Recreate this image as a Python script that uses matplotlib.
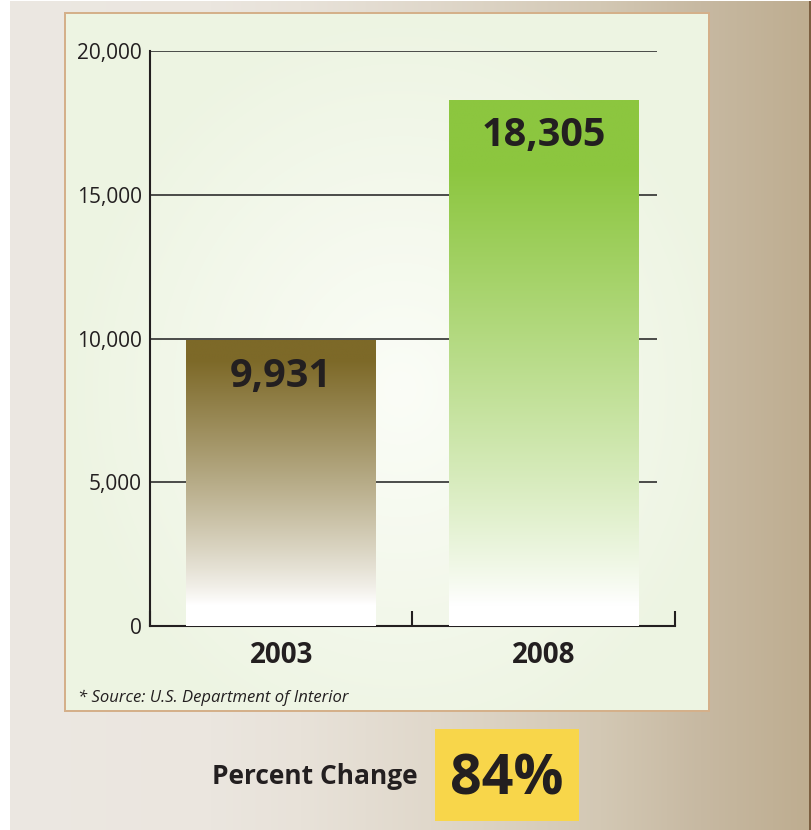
import numpy as np
import matplotlib
matplotlib.use("Agg")
import matplotlib.pyplot as plt
from matplotlib.patches import Rectangle
from matplotlib.colors import to_rgb

# ---- data ----
categories = ["2003", "2008"]
values = [9931, 18305]
value_labels = ["9,931", "18,305"]
y_ticks = [0, 5000, 10000, 15000, 20000]
y_tick_labels = ["0", "5,000", "10,000", "15,000", "20,000"]
source_text = "* Source: U.S. Department of Interior"
change_label = "Percent Change"
change_value = "84%"

# ---- style ----
bar_top_colors = ["#7d6928", "#8cc63f"]
white_end = [0.075, 0.04]   # fraction of bar height that stays white
full_start = [0.93, 0.87]   # fraction of bar height where full colour is reached
text_color = "#231f20"
FONT = "Open Sans"

W, H = 812, 830
fig = plt.figure(figsize=(W / 100, H / 100), dpi=100)

# ---- background image ----
bg = fig.add_axes([0, 0, 1, 1])
bg.set_xlim(0, W)
bg.set_ylim(H, 0)
bg.axis("off")

img = np.ones((H, W, 3))
xs = np.arange(W)
stops_x = [0, 210, 300, 430, 600, 700, 808]
stops_c = [to_rgb(c) for c in ["#ece8e2", "#ebe6df", "#e8e2d9", "#e0d8cb", "#d3c8b4", "#c7b9a2", "#bead90"]]
row = np.stack([np.interp(xs, stops_x, [c[k] for c in stops_c]) for k in range(3)], axis=1)
img[2:, 10:, :] = row[10:][None, :, :]
img[2:, 809:, :] = to_rgb("#7b5e40")

# panel
px0, px1, py0, py1 = 64, 710, 13, 712
img[py0:py1, px0:px1, :] = to_rgb("#d4b08a")
yy, xx = np.mgrid[py0 + 2:py1 - 2, px0 + 2:px1 - 2]
r = np.sqrt(((xx - 400) / 340.0) ** 2 + ((yy - 390) / 380.0) ** 2)
t = np.clip(r, 0, 1)[..., None]
base = np.array(to_rgb("#edf4e2"))
center = np.array(to_rgb("#fbfdf7"))
img[py0 + 2:py1 - 2, px0 + 2:px1 - 2, :] = center * (1 - t) + base * t
bg.imshow(img, extent=(0, W, H, 0), interpolation="nearest", aspect="auto", zorder=0)

# yellow box and percent change text
bg.add_patch(Rectangle((435, 729), 144, 92, facecolor="#f8d64a", edgecolor="none", zorder=2))
bg.text(507, 773, change_value, ha="center", va="center_baseline", fontsize=40,
        fontweight="bold", family=FONT, color=text_color, zorder=3)
bg.text(418, 773, change_label, ha="right", va="center_baseline", fontsize=19,
        fontweight="bold", family=FONT, color=text_color, zorder=3)
bg.text(78, 696, source_text, ha="left", va="center_baseline", fontsize=12,
        style="italic", family=FONT, color=text_color, zorder=3)

# ---- main chart ----
ax = fig.add_axes([150 / W, 1 - 626 / H, 525 / W, 575 / H])
ax.patch.set_alpha(0)
ax.set_xlim(-0.5, 1.5)
ax.set_ylim(0, 20000)

for s in ["top", "right"]:
    ax.spines[s].set_visible(False)
for s in ["left", "bottom"]:
    ax.spines[s].set_color(text_color)
    ax.spines[s].set_linewidth(1.5)
    ax.spines[s].set_zorder(2)

# gridlines (stop short of the right end of the axis)
ax.hlines(y_ticks[1:], -0.5, 1.43, color="#2e2e2e", linewidth=1.2, zorder=1)

x = np.arange(len(categories))
bars = ax.bar(x, values, width=0.723, color="none", edgecolor="none", zorder=3)
for i, b in enumerate(bars):
    n = 400
    f = np.linspace(0, 1, n)
    a = np.clip((f - white_end[i]) / (full_start[i] - white_end[i]), 0, 1) ** 0.85
    top = np.array(to_rgb(bar_top_colors[i]))
    grad = (1 - a)[:, None] * np.ones(3)[None, :] + a[:, None] * top[None, :]
    grad = grad[::-1][:, None, :]
    x0, w, h = b.get_x(), b.get_width(), b.get_height()
    im = ax.imshow(grad, extent=(x0, x0 + w, 0, h), aspect="auto",
                   interpolation="bilinear", zorder=3)
    im.set_clip_path(b)
    ax.annotate(value_labels[i], xy=(x[i], values[i]), xytext=(0, -26),
                textcoords="offset points", ha="center", va="center",
                fontsize=28.5, fontweight="bold", family=FONT, color=text_color, zorder=4)
ax.set_xlim(-0.5, 1.5)
ax.set_ylim(0, 20000)

# x ticks at boundaries, pointing inward; category labels as minor ticks
ax.set_xticks([-0.5, 0.5, 1.5])
ax.set_xticklabels([])
ax.tick_params(axis="x", which="major", direction="in", length=11, width=1.5, color=text_color)
ax.set_xticks(x, minor=True)
ax.set_xticklabels(categories, minor=True, fontsize=20, fontweight="bold", family=FONT, color=text_color)
ax.tick_params(axis="x", which="minor", length=0, pad=10.5)

ax.set_yticks(y_ticks)
ax.set_yticklabels(y_tick_labels, fontsize=15, family=FONT, color=text_color)
ax.tick_params(axis="y", length=0, pad=5.8)

fig.savefig("out.png", dpi=100)
